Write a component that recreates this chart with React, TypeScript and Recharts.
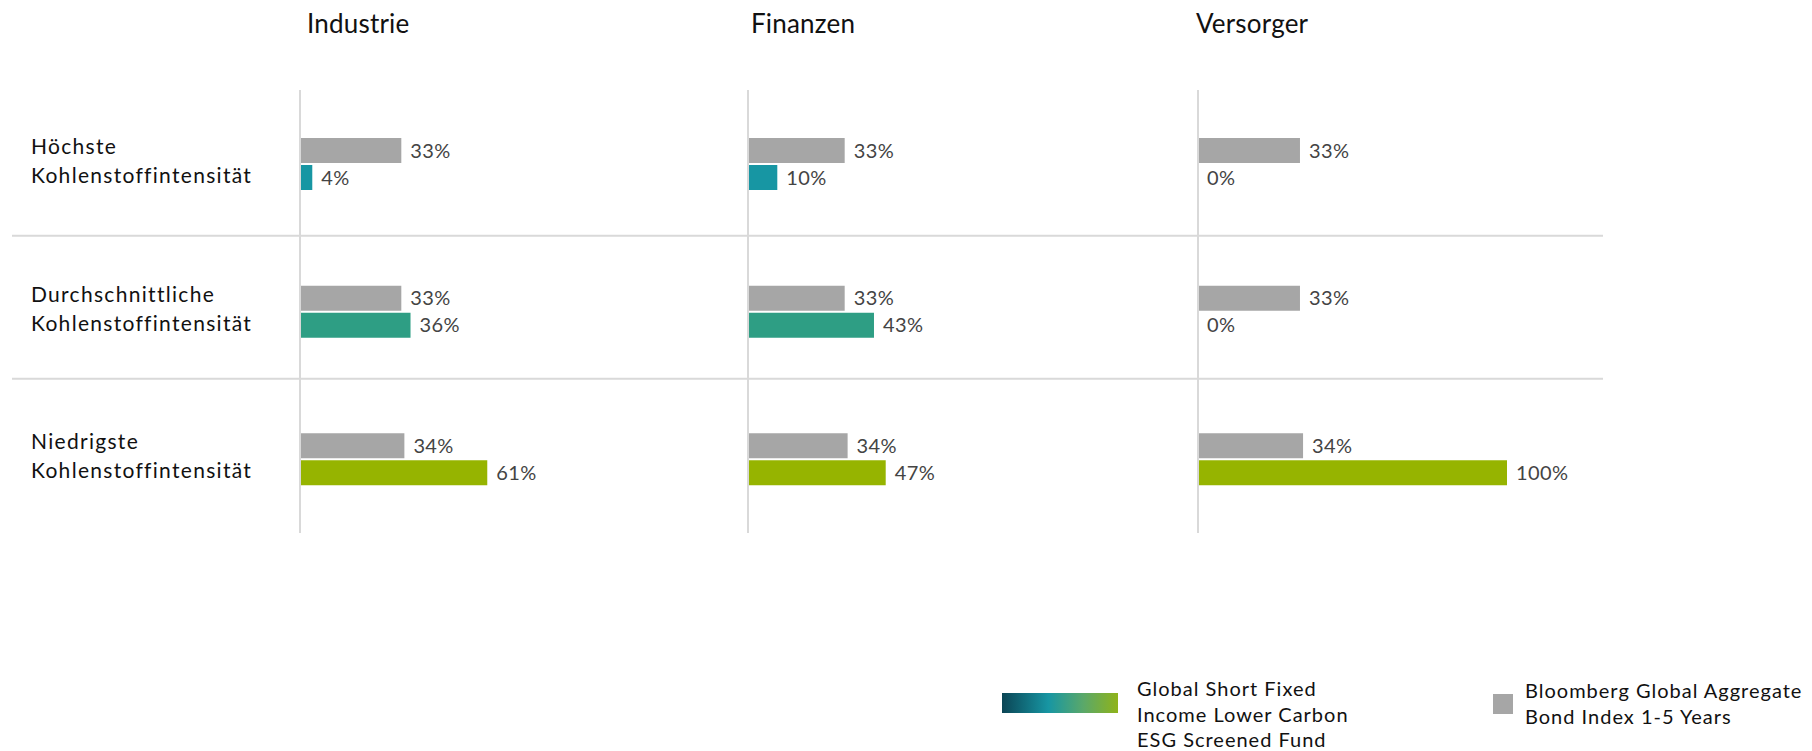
import React from 'react';
import { BarChart, Bar, XAxis, YAxis, CartesianGrid, Cell, LabelList } from 'recharts';

const rows = [
  'Höchste Kohlenstoffintensität',
  'Durchschnittliche Kohlenstoffintensität',
  'Niedrigste Kohlenstoffintensität',
];
const sectors = ['Industrie', 'Finanzen', 'Versorger'];
const fundLegendLines = ['Global Short Fixed', 'Income Lower Carbon', 'ESG Screened Fund'];
const indexLegendLines = ['Bloomberg Global Aggregate', 'Bond Index 1-5 Years'];

const industrieIndex = [33, 33, 34];
const industrieFund = [4, 36, 61];
const finanzenIndex = [33, 33, 34];
const finanzenFund = [10, 43, 47];
const versorgerIndex = [33, 33, 34];
const versorgerFund = [0, 0, 100];

const rowColors = ['#1796a3', '#2e9e84', '#96b400'];
const GRAY = '#a6a6a6';
const LINE = '#d9d9d9';
const FONT = 'Lato, "Open Sans", sans-serif';
const H = 560;
const SEP_FRACTIONS = [0.329, 0.652];

const build = (idx: number[], fund: number[]) =>
  rows.map((r, i) => ({ row: r, index: idx[i], fund: fund[i] }));

const panels = [
  { name: sectors[0], data: build(industrieIndex, industrieFund), left: 0, width: 748, axisW: 300, first: true, pxPerPct: 3.07 },
  { name: sectors[1], data: build(finanzenIndex, finanzenFund), left: 738, width: 460, axisW: 10, first: false, pxPerPct: 2.93 },
  { name: sectors[2], data: build(versorgerIndex, versorgerFund), left: 1188, width: 415, axisW: 10, first: false, pxPerPct: 3.09 },
];

const RowTick = (props: any) => {
  const { y, payload } = props;
  const parts = String(payload.value).split(' ');
  return (
    <text x={31} y={y} fill="#111" fontSize={21} fontFamily={FONT} letterSpacing={1.3}>
      <tspan x={31} dy={-10}>{parts[0]}</tspan>
      <tspan x={31} dy={29}>{parts.slice(1).join(' ')}</tspan>
    </text>
  );
};

const fmt = (v: any) => `${v}%`;

function Panel({ p }: { p: any }) {
  const plotW = p.width - p.axisW;
  return (
    <div style={{ position: 'absolute', left: p.left, top: 0 }}>
      <BarChart
        width={p.width}
        height={H}
        data={p.data}
        layout="vertical"
        margin={{ top: 90, right: 0, bottom: H - 533, left: 0 }}
        barSize={25}
        barGap={2}
      >
        <CartesianGrid
          vertical={false}
          stroke={LINE}
          strokeWidth={2}
          horizontalCoordinatesGenerator={({ offset }: any) =>
            SEP_FRACTIONS.map((f) => offset.top + offset.height * f)
          }
          horizontal={(lp: any) => (
            <line
              key={lp.key}
              x1={p.first ? 12 : lp.x1}
              x2={lp.x2}
              y1={lp.y1}
              y2={lp.y2}
              stroke={LINE}
              strokeWidth={2}
            />
          )}
        />
        <XAxis type="number" domain={[0, plotW / p.pxPerPct]} hide />
        <YAxis
          type="category"
          dataKey="row"
          width={p.axisW}
          axisLine={{ stroke: LINE, strokeWidth: 2 }}
          tickLine={false}
          tick={p.first ? <RowTick /> : false}
          interval={0}
        />
        <Bar dataKey="index" fill={GRAY} isAnimationActive={false}>
          <LabelList
            dataKey="index"
            position="right"
            offset={9}
            formatter={fmt}
            fill="#444"
            fontSize={20}
            fontFamily={FONT}
            letterSpacing={0.4}
          />
        </Bar>
        <Bar dataKey="fund" isAnimationActive={false} minPointSize={0.01}>
          {p.data.map((_: any, i: number) => (
            <Cell key={i} fill={rowColors[i]} />
          ))}
          <LabelList
            dataKey="fund"
            position="right"
            offset={9}
            formatter={fmt}
            fill="#444"
            fontSize={20}
            fontFamily={FONT}
            letterSpacing={0.4}
          />
        </Bar>
      </BarChart>
    </div>
  );
}

const headerX = [307, 751, 1196];

export default function App() {
  return (
    <div
      style={{
        position: 'absolute',
        left: 0,
        top: 0,
        width: 1812,
        height: 751,
        background: '#fff',
        fontFamily: FONT,
        overflow: 'hidden',
      }}
    >
      {panels.map((p, i) => (
        <Panel key={i} p={p} />
      ))}
      {sectors.map((s, i) => (
        <div
          key={s}
          style={{
            position: 'absolute',
            left: headerX[i],
            top: 10,
            fontSize: 26,
            lineHeight: '26px',
            color: '#111',
            whiteSpace: 'nowrap',
            letterSpacing: 0.2,
          }}
        >
          {s}
        </div>
      ))}
      <div
        style={{
          position: 'absolute',
          left: 1002,
          top: 693,
          width: 116,
          height: 20,
          background: 'linear-gradient(to right, #0b4555 0%, #1796a3 40%, #5aa86a 70%, #8fb31a 100%)',
        }}
      />
      <div style={{ position: 'absolute', left: 1137, top: 676, fontSize: 20, lineHeight: '25.5px', color: '#111', letterSpacing: 1 }}>
        {fundLegendLines.map((l) => (
          <div key={l} style={{ whiteSpace: 'nowrap' }}>{l}</div>
        ))}
      </div>
      <div style={{ position: 'absolute', left: 1493, top: 694, width: 20, height: 20, background: GRAY }} />
      <div style={{ position: 'absolute', left: 1525, top: 677, fontSize: 20, lineHeight: '26px', color: '#111', letterSpacing: 1 }}>
        {indexLegendLines.map((l) => (
          <div key={l} style={{ whiteSpace: 'nowrap' }}>{l}</div>
        ))}
      </div>
    </div>
  );
}
